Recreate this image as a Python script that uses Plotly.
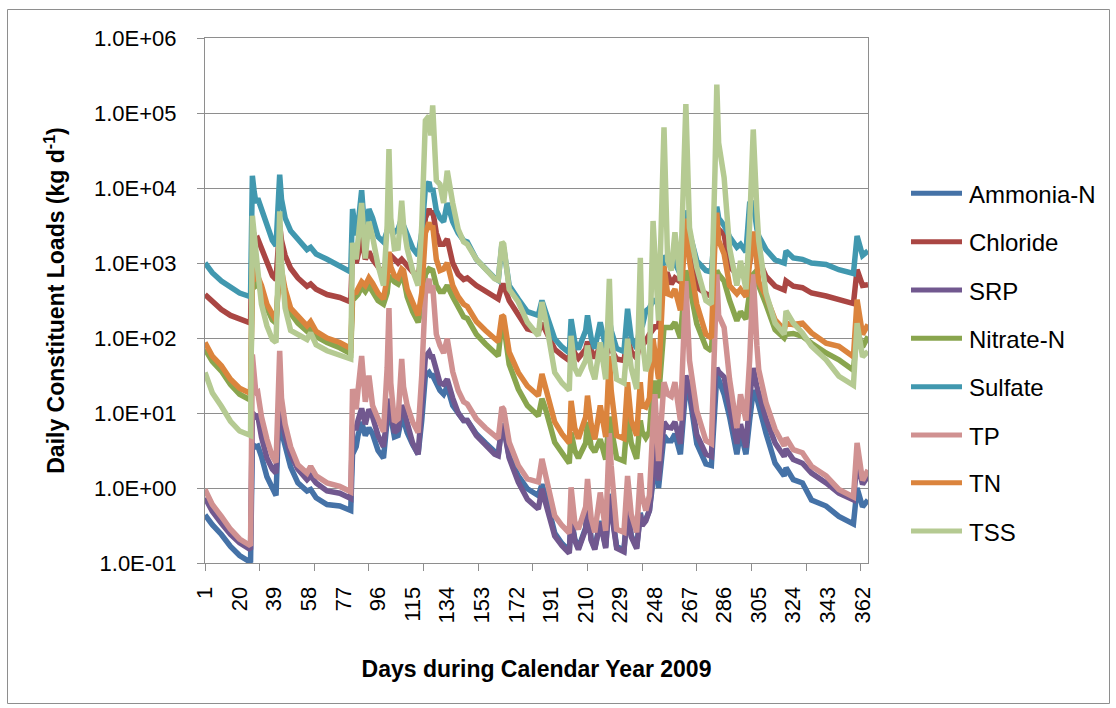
import plotly.graph_objects as go

# ---------------- data ----------------
DAYS = [1, 5, 10, 15, 20, 26, 27, 28, 29, 30,
        32, 35, 38, 40, 41, 42, 43, 45, 48, 52,
        57, 59, 62, 68, 75, 81, 82, 84, 85, 87,
        89, 91, 93, 96, 99, 101, 102, 103, 105, 107,
        109, 110, 112, 115, 118, 120, 122, 124, 125, 126,
        128, 130, 132, 134, 137, 140, 143, 145, 150, 155,
        160, 162, 164, 165, 168, 173, 178, 184, 186, 188,
        193, 197, 201, 202, 204, 206, 210, 211, 213, 215,
        218, 221, 223, 224, 227, 231, 233, 235, 238, 240,
        241, 243, 245, 247, 248, 250, 253, 255, 257, 259,
        262, 265, 267, 271, 276, 279, 281, 282, 283, 286,
        289, 293, 295, 298, 300, 302, 304, 305, 309, 314,
        319, 320, 324, 329, 334, 342, 349, 357, 359, 362,
        365]

AMMONIA_N = [0.437, 0.324, 0.240, 0.166, 0.126, 0.102, 3.80, 3.63, 3.55, 3.63,
             2.63, 1.41, 0.955, 0.794, 3.98, 10.0, 5.62, 3.55, 1.91, 1.17,
             0.912, 0.955, 0.741, 0.603, 0.575, 0.501, 2.82, 3.55, 5.01, 7.59,
             5.01, 6.31, 5.25, 3.16, 2.51, 7.94, 11.2, 8.91, 4.79, 5.01,
             8.91, 7.94, 5.50, 3.80, 2.82, 7.94, 31.6, 34.7, 31.6, 31.6,
             25.1, 20.0, 17.8, 22.4, 12.6, 10.0, 7.94, 7.94, 5.25, 3.98,
             2.95, 2.75, 7.08, 6.61, 2.63, 1.45, 0.977, 0.794, 1.12, 0.794,
             0.251, 0.182, 0.145, 0.407, 0.209, 0.158, 0.295, 0.603, 0.209, 0.158,
             0.363, 0.166, 0.832, 0.525, 0.166, 0.148, 0.550, 0.234, 0.162, 0.468,
             0.331, 0.380, 0.501, 1.26, 4.47, 1.00, 5.01, 4.27, 4.27, 5.25,
             2.82, 22.4, 17.8, 3.89, 2.09, 2.00, 22.4, 31.6, 28.2, 17.8,
             8.91, 2.82, 5.62, 2.82, 7.94, 20.0, 15.8, 12.6, 5.37, 2.14,
             1.45, 1.86, 1.29, 1.17, 0.692, 0.575, 0.417, 0.331, 1.00, 0.562,
             0.692]

CHLORIDE = [380, 309, 240, 200, 178, 158, 2820, 2240, 2000, 2090,
            1580, 1000, 676, 603, 1260, 3160, 2000, 1260, 851, 631,
            490, 525, 447, 380, 347, 302, 1410, 1000, 1260, 2240,
            1120, 1410, 1120, 891, 708, 1000, 1260, 1260, 1120, 1000,
            1120, 1050, 891, 759, 676, 1260, 3980, 5250, 4470, 5010,
            2510, 1780, 1780, 2090, 1000, 708, 603, 631, 501, 427,
            363, 331, 501, 501, 316, 200, 132, 120, 158, 126,
            70.8, 58.9, 50.1, 89.1, 63.1, 53.7, 70.8, 89.1, 66.1, 53.7,
            79.4, 52.5, 89.1, 70.8, 52.5, 50.1, 100, 66.1, 53.7, 89.1,
            79.4, 91.2, 112, 126, 141, 141, 708, 708, 525, 631,
            562, 3160, 1580, 479, 389, 363, 2190, 2820, 2820, 2400,
            891, 708, 708, 631, 1000, 2000, 1260, 1100, 661, 490,
            437, 575, 490, 468, 398, 363, 324, 288, 813, 501,
            513]

SRP = [0.741, 0.490, 0.339, 0.240, 0.186, 0.151, 10.0, 9.55, 8.91, 9.12,
       4.79, 2.51, 1.78, 1.58, 7.94, 20.0, 8.91, 5.01, 2.82, 1.78,
       1.29, 1.45, 1.17, 0.912, 0.851, 0.724, 6.31, 6.31, 7.94, 11.5,
       7.08, 11.2, 8.91, 5.01, 3.55, 10.0, 15.5, 11.2, 5.50, 6.03,
       12.6, 11.2, 7.08, 3.98, 2.82, 10.0, 56.2, 64.6, 56.2, 56.2,
       35.5, 25.1, 24.0, 28.2, 15.8, 10.0, 7.94, 7.94, 5.01, 3.80,
       2.82, 2.69, 6.76, 6.31, 2.51, 1.20, 0.708, 0.525, 0.977, 0.631,
       0.229, 0.170, 0.135, 0.389, 0.200, 0.151, 0.282, 0.575, 0.200, 0.151,
       0.347, 0.158, 0.794, 0.501, 0.158, 0.141, 0.525, 0.224, 0.155, 0.447,
       0.316, 0.363, 0.501, 1.62, 6.46, 1.26, 7.59, 6.46, 6.31, 7.59,
       3.89, 31.6, 21.4, 5.13, 2.82, 2.63, 30.2, 39.8, 35.5, 30.2,
       12.6, 3.89, 7.08, 3.47, 15.8, 39.8, 22.4, 17.8, 8.32, 3.98,
       2.63, 3.31, 2.40, 2.14, 1.58, 1.17, 0.851, 0.692, 2.24, 1.12,
       1.45]

NITRATE_N = [70.8, 49.0, 36.3, 24.0, 17.8, 14.8, 631, 525, 501, 525,
             417, 251, 174, 158, 316, 1000, 562, 355, 214, 158,
             123, 138, 105, 87.1, 74.1, 61.7, 316, 355, 380, 479,
             417, 501, 427, 316, 282, 398, 676, 631, 562, 525,
             661, 631, 355, 224, 162, 251, 708, 832, 794, 794,
             501, 417, 417, 501, 355, 251, 191, 182, 112, 83.2,
             64.6, 57.5, 162, 151, 44.7, 20.9, 12.6, 9.12, 15.5, 11.2,
             4.07, 2.88, 2.14, 5.50, 3.16, 2.51, 3.98, 7.59, 3.55, 3.02,
             4.47, 2.40, 8.91, 6.31, 2.51, 2.29, 9.12, 3.98, 2.45, 7.94,
             5.62, 4.68, 5.62, 25.1, 25.1, 15.8, 138, 138, 138, 162,
             100, 794, 501, 155, 75.9, 67.6, 501, 794, 708, 575,
             316, 170, 224, 178, 398, 708, 794, 501, 282, 129,
             100, 112, 115, 105, 85.1, 63.1, 51.3, 37.2, 126, 75.9,
             105]

SULFATE = [1000, 741, 575, 468, 398, 355, 14500, 8910, 6310, 7240,
           5250, 3020, 2000, 1700, 3980, 15100, 7080, 3980, 2690, 2090,
           1510, 1620, 1320, 1120, 912, 759, 5250, 2340, 3160, 9330,
           2090, 5250, 3980, 2240, 1910, 2510, 3160, 2820, 2570, 2820,
           3980, 3160, 2290, 1580, 1260, 2510, 10000, 12000, 8910, 10000,
           5010, 3980, 3550, 6310, 3550, 2510, 2000, 1910, 1120, 832,
           631, 589, 1780, 1580, 501, 331, 224, 200, 316, 224,
           97.7, 75.9, 63.1, 178, 89.1, 70.8, 126, 200, 100, 72.4,
           162, 74.1, 178, 126, 72.4, 66.1, 245, 100, 72.4, 158,
           141, 229, 251, 316, 316, 282, 1260, 1000, 891, 1000,
           708, 5010, 2510, 1070, 794, 759, 3160, 5620, 3980, 3160,
           2240, 1620, 1780, 1410, 6170, 6310, 2820, 2290, 1510, 1100,
           1000, 1450, 1170, 1120, 1000, 955, 813, 724, 2290, 1260,
           1450]

TP = [0.955, 0.603, 0.417, 0.282, 0.209, 0.170, 60.3, 25.1, 17.8, 18.6,
      8.91, 4.47, 2.63, 2.19, 15.8, 67.6, 15.8, 7.08, 3.55, 2.04,
      1.58, 1.95, 1.45, 1.17, 1.05, 0.891, 20.9, 11.2, 20.0, 57.5,
      14.1, 31.6, 12.6, 7.94, 5.62, 39.8, 251, 25.1, 7.59, 8.32,
      52.5, 22.4, 12.6, 7.59, 5.50, 31.6, 398, 617, 398, 501,
      112, 79.4, 63.1, 97.7, 35.5, 20.0, 14.1, 13.2, 8.32, 6.31,
      5.01, 4.57, 12.0, 11.2, 4.07, 2.00, 1.32, 1.20, 2.45, 1.41,
      0.427, 0.316, 0.251, 1.02, 0.355, 0.282, 0.562, 1.32, 0.398, 0.257,
      0.871, 0.269, 5.37, 2.00, 0.282, 0.257, 1.45, 0.447, 0.257, 1.58,
      0.794, 0.501, 0.794, 7.59, 17.8, 2.29, 25.7, 17.8, 16.6, 25.7,
      7.94, 575, 50.1, 10.7, 4.27, 3.89, 83.2, 708, 200, 138,
      28.2, 6.31, 17.8, 7.94, 50.1, 708, 79.4, 38.0, 13.8, 6.03,
      3.63, 4.68, 3.24, 2.95, 1.95, 1.45, 0.955, 0.759, 3.98, 1.26,
      1.74]

TN = [87.1, 57.5, 42.7, 28.2, 21.4, 18.2, 891, 708, 631, 661,
      501, 282, 200, 170, 398, 1580, 794, 447, 251, 195,
      145, 166, 123, 100, 87.1, 72.4, 398, 407, 447, 562,
      501, 631, 537, 398, 331, 631, 1410, 891, 676, 631,
      832, 794, 447, 282, 200, 398, 2510, 3470, 2820, 3160,
      1120, 794, 832, 1000, 501, 355, 282, 263, 166, 126,
      97.7, 89.1, 200, 191, 64.6, 34.7, 22.9, 17.0, 33.1, 22.4,
      7.59, 5.25, 3.98, 14.5, 6.31, 4.57, 8.91, 17.0, 7.08, 4.47,
      12.6, 4.79, 57.5, 20.0, 5.01, 4.57, 25.7, 7.94, 5.01, 25.7,
      12.6, 12.0, 15.8, 97.7, 63.1, 28.2, 912, 389, 372, 447,
      234, 3890, 1070, 282, 112, 100, 2000, 4680, 2000, 1320,
      501, 389, 447, 355, 1000, 2630, 1000, 562, 363, 174,
      129, 158, 151, 158, 117, 85.1, 77.6, 56.2, 324, 112,
      151]

TSS = [34.7, 18.6, 12.3, 7.76, 5.75, 5.01, 4270, 2240, 1000, 794,
       282, 145, 95.5, 87.1, 631, 4900, 1000, 251, 126, 112,
       95.5, 117, 81.3, 67.6, 60.3, 52.5, 1860, 1120, 2000, 6310,
       1150, 3550, 2240, 933, 501, 3160, 33100, 3980, 1550, 1580,
       6760, 3160, 1550, 794, 501, 3160, 79400, 91200, 50100, 126000,
       12600, 11200, 6310, 17000, 6310, 2820, 1910, 1780, 1120, 851,
       617, 589, 1910, 1780, 447, 302, 162, 107, 302, 178,
       34.7, 25.1, 20.0, 107, 39.8, 31.6, 50.1, 79.4, 39.8, 28.2,
       87.1, 28.2, 617, 100, 28.2, 25.1, 97.7, 39.8, 20.9, 1170,
       100, 36.3, 50.1, 3630, 1000, 170, 64600, 1070, 794, 2570,
       575, 132000, 2950, 871, 316, 282, 17400, 240000, 39800, 13800,
       1580, 501, 1070, 447, 3160, 60300, 5010, 2000, 398, 158,
       112, 229, 158, 117, 77.6, 51.3, 30.9, 23.4, 158, 56.2,
       66.1]

SERIES_NAMES = ["Ammonia-N", "Chloride", "SRP", "Nitrate-N", "Sulfate", "TP", "TN", "TSS"]
SERIES_VALUES = [AMMONIA_N, CHLORIDE, SRP, NITRATE_N, SULFATE, TP, TN, TSS]

Y_TICK_VALUES = [0.1, 1, 10, 100, 1000, 10000, 100000, 1000000]
Y_TICK_TEXT = ["1.0E-01", "1.0E+00", "1.0E+01", "1.0E+02", "1.0E+03", "1.0E+04", "1.0E+05", "1.0E+06"]
X_LABEL_DAYS = [1, 20, 39, 58, 77, 96, 115, 134, 153, 172, 191, 210, 229, 248, 267, 286, 305, 324, 343, 362]
X_TICKMARK_DAYS = [1, 31, 61, 91, 121, 151, 181, 211, 241, 271, 301, 331, 361]

for _n, _v in zip(SERIES_NAMES, SERIES_VALUES):
    assert len(_v) == len(DAYS), (_n, len(_v), len(DAYS))

# ---------------- style ----------------
COLORS = ["#4572A7", "#AA4643", "#71588F", "#89A54E", "#4198AF", "#D09191", "#DB843D", "#B5CA92"]
FONT = "Liberation Sans, Arial, sans-serif"
GRID = "#8E8E8E"

W, H = 1116, 708
PL, PR, PT, PB = 205, 868, 38, 563   # plot-area pixel box


def px(x):
    return (x - PL) / (PR - PL)


def py(y):
    return (PB - y) / (PB - PT)


fig = go.Figure()
for name, vals, col in zip(SERIES_NAMES, SERIES_VALUES, COLORS):
    fig.add_trace(go.Scatter(x=DAYS, y=vals, mode="lines", name=name,
                             line=dict(color=col, width=5.5), showlegend=False))

shapes = []
annotations = []
# outer chart border
shapes.append(dict(type="rect", xref="paper", yref="paper",
                   x0=px(7.5), x1=px(1109.5), y0=py(9.5), y1=py(703.5),
                   line=dict(color=GRID, width=1), fillcolor="rgba(0,0,0,0)", layer="below"))
# legend
LEG_Y = [193.3, 241.7, 290, 338.3, 386.7, 435, 482.7, 531]
for name, col, ly in zip(SERIES_NAMES, COLORS, LEG_Y):
    shapes.append(dict(type="line", xref="paper", yref="paper",
                       x0=px(911), x1=px(962), y0=py(ly), y1=py(ly),
                       line=dict(color=col, width=5)))
    annotations.append(dict(xref="paper", yref="paper", x=px(967), y=py(ly + 1),
                            xanchor="left", yanchor="middle", showarrow=False,
                            text=name, font=dict(family=FONT, size=24, color="black")))

fig.update_layout(
    width=W, height=H, autosize=False,
    margin=dict(l=PL, r=W - PR, t=PT, b=H - PB),
    paper_bgcolor="white", plot_bgcolor="white",
    showlegend=False,
    shapes=shapes, annotations=annotations,
    font=dict(family=FONT, color="black"),
)

fig.update_xaxes(
    type="linear", range=[1, 365], automargin=False,
    tickmode="array", tickvals=X_LABEL_DAYS, ticktext=[str(d) for d in X_LABEL_DAYS],
    tickangle=-90, ticks="", ticklabelstandoff=14,
    tickfont=dict(family=FONT, size=22, color="black"),
    showgrid=False, zeroline=False,
    showline=True, linecolor=GRID, linewidth=1, mirror=True,
    minor=dict(tickmode="array", tickvals=X_TICKMARK_DAYS, ticks="outside",
               ticklen=7, tickcolor=GRID, tickwidth=1, showgrid=False),
    title=dict(text="Days during Calendar Year 2009", standoff=38,
               font=dict(family=FONT, size=23, color="black", weight="bold")),
)

fig.update_yaxes(
    type="log", range=[-1, 6], automargin=False,
    tickmode="array", tickvals=Y_TICK_VALUES, ticktext=Y_TICK_TEXT,
    ticks="outside", ticklen=7, tickcolor=GRID, ticklabelstandoff=16,
    tickfont=dict(family=FONT, size=22, color="black"),
    showgrid=True, gridcolor=GRID, gridwidth=1, zeroline=False,
    showline=True, linecolor=GRID, linewidth=1, mirror=True,
    title=dict(text="Daily Constituent Loads (kg d<sup>-1</sup>)", standoff=22,
               font=dict(family=FONT, size=23, color="black", weight="bold")),
)

fig.write_html("out.html")
